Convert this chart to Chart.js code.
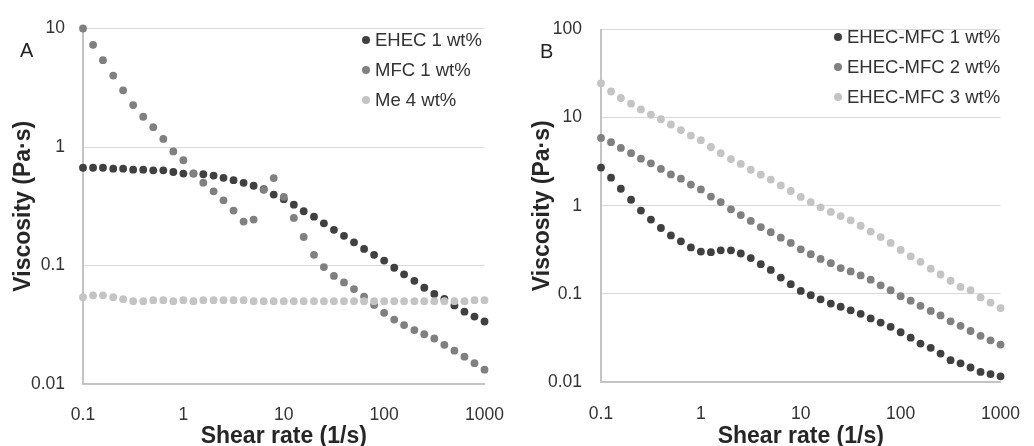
<!DOCTYPE html>
<html>
<head>
<meta charset="utf-8">
<script src="https://cdn.jsdelivr.net/npm/chart.js@4/dist/chart.umd.min.js"></script>
<style>
  html, body { margin: 0; padding: 0; background: #fff; }
  #wrap { position: relative; width: 1034px; height: 446px; overflow: hidden; }
  canvas { position: absolute; top: 0; }
  .panel { position: absolute; font-family: "Liberation Sans", Arial, sans-serif; font-size: 20px; color: #222; line-height: 1; }
</style>
</head>
<body>
<div id="wrap">
  <canvas id="chartA" width="517" height="446" style="left:0"></canvas>
  <canvas id="chartB" width="517" height="446" style="left:517px"></canvas>
  <div class="panel" style="left:20px; top:40px">A</div>
  <div class="panel" style="left:540px; top:41px">B</div>
</div>
<script>
// shear rate (1/s), 10 points per decade
var shearRates = [0.1, 0.126, 0.158, 0.2, 0.251, 0.316, 0.398, 0.501, 0.631, 0.794,
  1, 1.26, 1.58, 2, 2.51, 3.16, 3.98, 5.01, 6.31, 7.94,
  10, 12.6, 15.8, 20, 25.1, 31.6, 39.8, 50.1, 63.1, 79.4,
  100, 126, 158, 200, 251, 316, 398, 501, 631, 794, 1000];

var xTicks = [0.1, 1, 10, 100, 1000];
var yTicksA = [0.01, 0.1, 1, 10];
var yTicksB = [0.01, 0.1, 1, 10, 100];

// panel A
var labelsA = ['EHEC 1 wt%', 'MFC 1 wt%', 'Me 4 wt%'];
var ehec1 = [0.668, 0.668, 0.668, 0.656, 0.656, 0.644, 0.644, 0.636, 0.636, 0.615,
  0.597, 0.597, 0.589, 0.574, 0.549, 0.525, 0.499, 0.471, 0.440, 0.397,
  0.363, 0.326, 0.287, 0.258, 0.227, 0.200, 0.178, 0.157, 0.138, 0.123,
  0.110, 0.0957, 0.0842, 0.0742, 0.0649, 0.0575, 0.0523, 0.046, 0.0408, 0.0371, 0.0337];
var mfc1 = [10, 7.28, 5.40, 4.01, 3.01, 2.26, 1.80, 1.47, 1.17, 0.917,
  0.773, 0.599, 0.500, 0.423, 0.355, 0.291, 0.235, 0.244, 0.435, 0.547,
  0.379, 0.252, 0.174, 0.123, 0.097, 0.0817, 0.072, 0.0632, 0.0547, 0.0465,
  0.0399, 0.0350, 0.0314, 0.0285, 0.0263, 0.0242, 0.0214, 0.0191, 0.0170, 0.0150, 0.0132];
var me4 = [0.054, 0.056, 0.056, 0.054, 0.052, 0.050, 0.050, 0.051, 0.051, 0.050,
  0.051, 0.050, 0.051, 0.051, 0.051, 0.051, 0.051, 0.050, 0.050, 0.050,
  0.050, 0.050, 0.050, 0.050, 0.050, 0.050, 0.050, 0.050, 0.050, 0.050,
  0.050, 0.050, 0.050, 0.050, 0.050, 0.050, 0.050, 0.050, 0.050, 0.051, 0.051];

// panel B
var labelsB = ['EHEC-MFC 1 wt%', 'EHEC-MFC 2 wt%', 'EHEC-MFC 3 wt%'];
var ehecMfc1 = [2.71, 2.08, 1.56, 1.17, 0.881, 0.696, 0.559, 0.460, 0.395, 0.337,
  0.302, 0.297, 0.312, 0.312, 0.287, 0.255, 0.217, 0.187, 0.153, 0.129,
  0.108, 0.0967, 0.0867, 0.0777, 0.0714, 0.0650, 0.0593, 0.0527, 0.0472, 0.0423,
  0.0367, 0.0318, 0.0273, 0.0244, 0.0210, 0.0177, 0.0163, 0.0146, 0.0130, 0.0123, 0.0116];
var ehecMfc2 = [5.89, 5.27, 4.53, 3.95, 3.42, 3.03, 2.62, 2.27, 2.03, 1.74,
  1.53, 1.27, 1.10, 0.912, 0.783, 0.673, 0.573, 0.501, 0.434, 0.379,
  0.320, 0.282, 0.249, 0.223, 0.196, 0.180, 0.162, 0.145, 0.125, 0.110,
  0.0942, 0.0838, 0.0732, 0.0640, 0.0569, 0.0488, 0.0434, 0.0379, 0.0334, 0.0297, 0.0266];
var ehecMfc3 = [24.5, 19.8, 16.7, 14.4, 12.4, 10.8, 9.58, 8.36, 7.23, 6.25,
  5.55, 4.64, 3.95, 3.39, 2.98, 2.56, 2.25, 1.98, 1.70, 1.47,
  1.26, 1.10, 0.959, 0.852, 0.763, 0.684, 0.593, 0.509, 0.441, 0.379,
  0.315, 0.266, 0.231, 0.193, 0.166, 0.141, 0.120, 0.110, 0.0912, 0.0796, 0.069];

var greys = ['#404040', '#808080', '#c4c4c4'];
var fontFam = '"Liberation Sans", Arial, sans-serif';

function toPoints(ys) {
  return ys.map(function (y, i) { return { x: shearRates[i], y: y }; });
}

// legend drawn inside the plot, top right, like the Excel original
var insideLegend = {
  id: 'insideLegend',
  afterDraw: function (chart, args, opts) {
    var ctx = chart.ctx;
    ctx.save();
    ctx.font = '18.5px ' + fontFam;
    ctx.textBaseline = 'middle';
    ctx.textAlign = 'left';
    chart.data.datasets.forEach(function (ds, i) {
      var y = opts.y + i * opts.gap;
      ctx.fillStyle = ds.backgroundColor;
      ctx.beginPath();
      ctx.arc(opts.x, y, 4, 0, Math.PI * 2);
      ctx.fill();
      ctx.fillStyle = '#333';
      ctx.fillText(ds.label, opts.x + 9, y + 1);
    });
    ctx.restore();
  }
};

function makeChart(id, labels, series, yTicks, yMax, lay) {
  var datasets = series.map(function (s, i) {
    return {
      label: labels[i],
      data: toPoints(s),
      backgroundColor: greys[i],
      borderWidth: 0,
      pointRadius: 3.9,
      pointHoverRadius: 3.9,
      showLine: false,
      clip: false,
      order: 3 - i
    };
  });
  return new Chart(document.getElementById(id), {
    type: 'scatter',
    data: { datasets: datasets },
    plugins: [insideLegend],
    options: {
      responsive: false,
      animation: false,
      layout: { padding: { top: 22, right: lay.right, bottom: 0, left: 0 } },
      plugins: {
        legend: { display: false },
        tooltip: { enabled: false },
        insideLegend: { x: lay.legX, y: lay.legY, gap: 30 }
      },
      scales: {
        x: {
          type: 'logarithmic',
          min: 0.1,
          max: 1000,
          afterBuildTicks: function (scale) { scale.ticks = xTicks.map(function (v) { return { value: v }; }); },
          afterFit: function (scale) { scale.height = lay.xH; },
          grid: { display: false },
          border: { display: true, color: '#c4c4c4', width: 2 },
          ticks: {
            autoSkip: false, maxRotation: 0, padding: lay.xPad, color: '#333',
            font: { family: fontFam, size: 17.5 },
            callback: function (v) { return String(v); }
          },
          title: {
            display: true, text: 'Shear rate (1/s)', color: '#262626',
            font: { family: fontFam, size: 23, weight: 'bold', lineHeight: 1 },
            padding: { top: 0, bottom: -2 }
          }
        },
        y: {
          type: 'logarithmic',
          min: 0.01,
          max: yMax,
          afterBuildTicks: function (scale) { scale.ticks = yTicks.map(function (v) { return { value: v }; }); },
          afterFit: function (scale) { scale.width = lay.yW; },
          grid: { color: '#d9d9d9', lineWidth: 1, drawTicks: false },
          border: { display: true, color: '#c4c4c4', width: 2 },
          ticks: {
            autoSkip: false, padding: lay.yPad, color: '#333',
            font: { family: fontFam, size: 17.5 },
            callback: function (v) { return String(v); }
          },
          title: {
            display: true, text: 'Viscosity (Pa·s)', color: '#262626',
            font: { family: fontFam, size: 23, weight: 'bold', lineHeight: 1 },
            padding: { top: lay.yTitlePad, bottom: 0 }
          }
        }
      }
    }
  });
}

makeChart('chartA', labelsA, [ehec1, mfc1, me4], yTicksA, 10,
  { right: 29, xH: 62, yW: 83, xPad: 13, yPad: 18, yTitlePad: 12, legX: 366, legY: 40 });
makeChart('chartB', labelsB, [ehecMfc1, ehecMfc2, ehecMfc3], yTicksB, 100,
  { right: 22, xH: 64, yW: 84, xPad: 14, yPad: 19, yTitlePad: 14, legX: 321, legY: 37 });
</script>
</body>
</html>
